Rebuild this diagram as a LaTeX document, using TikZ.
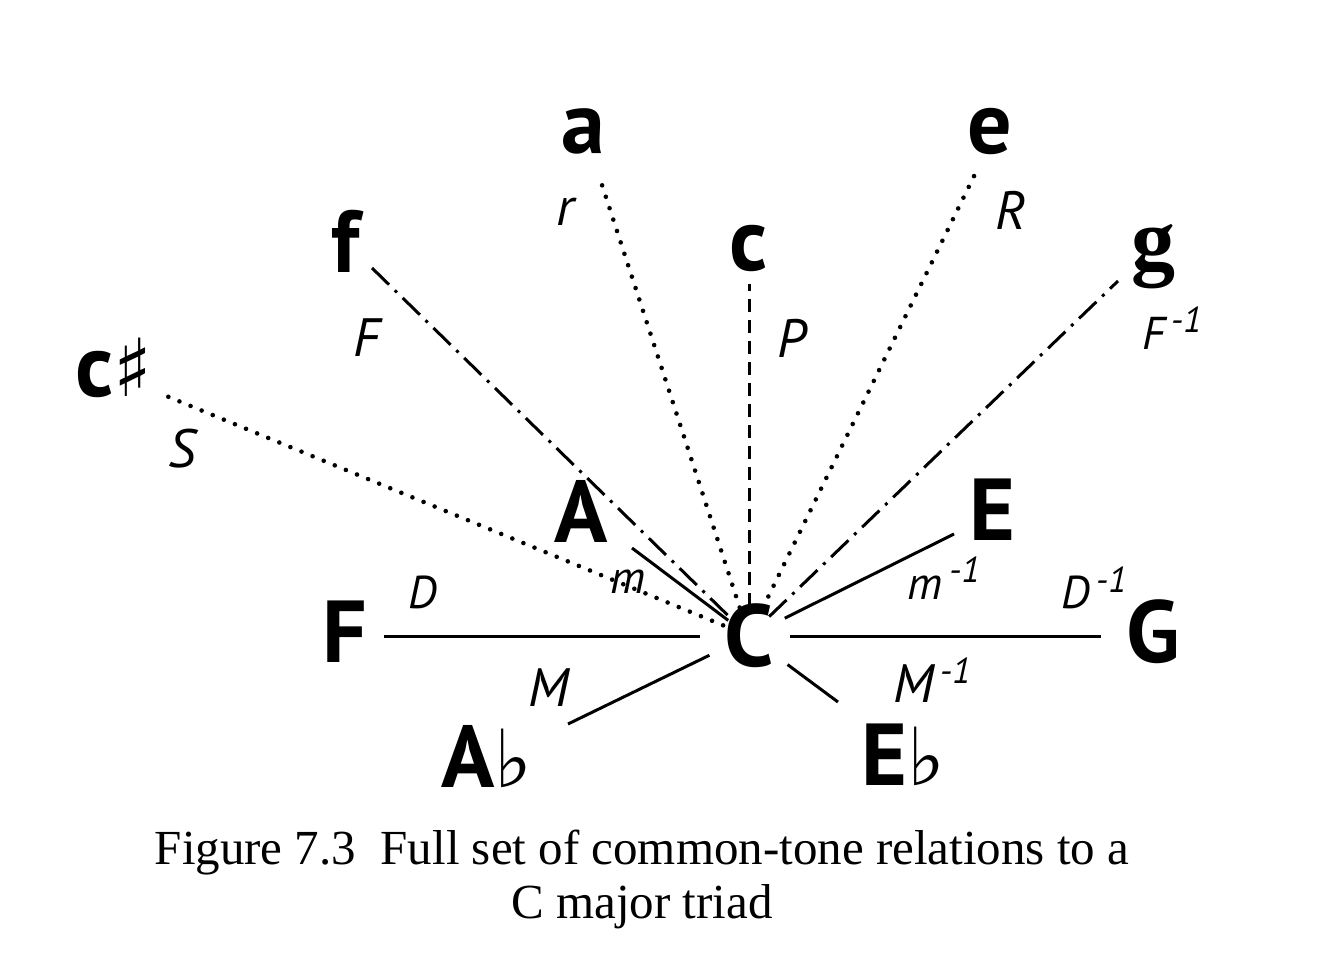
\documentclass[tikz,border=0pt]{standalone}
\usepackage{fontspec}
\setmainfont{PT Sans}
\newfontfamily\capfont{Liberation Serif}
\newfontfamily\symfont{DejaVu Sans}
\usetikzlibrary{calc}
\newcommand{\supinv}{\raisebox{0.36em}{\fontsize{36}{36}\selectfont\,-1}}
\newcommand{\flatsign}{{\symfont\mdseries\fontsize{80}{80}\selectfont ♭}}
\newcommand{\sharpsign}{{\symfont\bfseries\fontsize{80}{80}\selectfont ♯}}
\begin{document}
\begin{tikzpicture}[x=1pt,y=-1pt,
  big/.style={font=\fontsize{88}{88}\selectfont\bfseries, inner sep=0pt},
  lab/.style={font=\fontsize{54}{54}\selectfont\itshape, inner sep=0pt},
  smalllab/.style={font=\fontsize{46}{46}\selectfont\itshape, inner sep=0pt},
  caption/.style={font=\fontsize{49}{49}\selectfont\capfont, inner sep=0pt, anchor=base},
  solidline/.style={line width=3pt},
  dotline/.style={line width=4.6pt, line cap=round, dash pattern=on 0pt off 12pt},
  dashline/.style={line width=3pt, dash pattern=on 13pt off 8pt},
  dashdotline/.style={line width=3pt, dash pattern=on 24pt off 8pt on 3pt off 8pt}]
\useasboundingbox (0,0) rectangle (1320,978);
% chord nodes
\node[big] (C) at (749,636) {C};
\node[big] (F) at (345,632) {F};
\node[big] (G) at (1153,632) {G};
\node[big] (A) at (581,511) {A};
\node[big] (E) at (992,510) {E};
\node[big] (Ab) at (487,757) {A\flatsign};
\node[big] (Eb) at (903,755) {E\flatsign};
\node[big] (f) at (346,241) {f};
\node[big] (a) at (583,131) {a};
\node[big] (c) at (749,248) {c};
\node[big] (e) at (990,131) {e};
\node[big] (g) at (1153,257) {{\capfont\bfseries g}};
\node[big] (cs) at (114,368) {c\sharpsign};
% line ends
\coordinate (Fe) at (384,636);
\coordinate (Ge) at (1101,636);
\coordinate (Ae) at (632,548);
\coordinate (Ee) at (954,534);
\coordinate (Abe) at (568,724);
\coordinate (Ebe) at (838,702);
\coordinate (fe) at (372,268);
\coordinate (ae) at (602,185);
\coordinate (ce) at (749,284);
\coordinate (ee) at (977,170);
\coordinate (ge) at (1118,281);
\coordinate (cse) at (164,395);
% connectors
\draw[solidline, shorten <=49pt] (C.center) -- (Fe);
\draw[solidline, shorten <=41pt] (C.center) -- (Ge);
\draw[solidline, shorten <=44pt] (C.center) -- (Abe);
\draw[solidline, shorten <=48pt] (C.center) -- (Ebe);
\draw[solidline, shorten <=40pt] (C.center) -- (Ee);
\draw[solidline, shorten <=26pt] (C.center) -- (Ae);
\draw[dashdotline, shorten <=30pt] (C.center) -- (fe);
\draw[dashdotline, shorten <=28pt] (C.center) -- (ge);
\draw[dashline, shorten <=30pt] (C.center) -- (ce);
\draw[dotline, shorten <=30pt] (C.center) -- (ae);
\draw[dotline, shorten <=32pt] (C.center) -- (ee);
\draw[dotline, shorten <=28pt] (C.center) -- (cse);
% relation labels
\node[lab] (lr) at (565,212) {r};
\node[lab] (lR) at (1011,210) {R};
\node[lab] (lP) at (792,338) {P};
\node[lab] (lF) at (367,338) {F};
\node[lab] (lS) at (182,449) {S};
\node[smalllab] (lFi) at (1172,328) {F\supinv};
\node[smalllab] (lm) at (628,582) {m};
\node[smalllab] (lmi) at (944,578) {m\supinv};
\node[smalllab] (lD) at (423,592) {D};
\node[smalllab] (lDi) at (1094,588) {D\supinv};
\node[lab] (lM) at (549,688) {M};
\node[lab] (lMi) at (932,680) {M\supinv};
% caption
\node[caption] (cap1) at (642,864) {Figure 7.3\ \ Full set of common-tone relations to a};
\node[caption] (cap2) at (642,918) {C major triad};
\end{tikzpicture}
\end{document}
